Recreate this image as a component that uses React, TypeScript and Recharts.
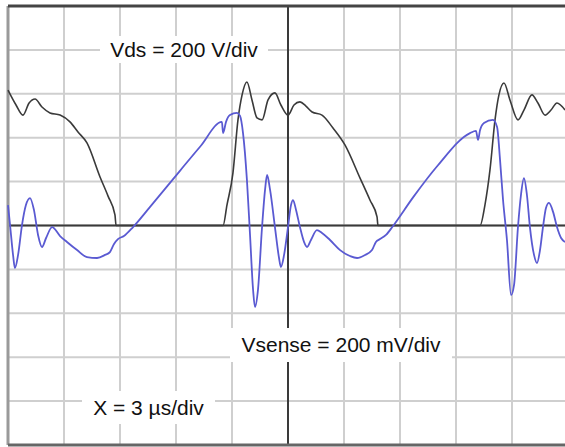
import React from 'react';
import {
  LineChart,
  CartesianGrid,
  XAxis,
  YAxis,
  Line,
  ReferenceLine
} from 'recharts';

// time axis in µs (3 µs/div), both traces in their own units at 200 units/div
const timeTicks = [0, 3, 6, 9, 12, 15, 18, 21, 24, 27, 30];
const levelTicks = [-1000, -800, -600, -400, -200, 0, 200, 400, 600, 800, 1000];

// Vds trace (V)
const vdsTime = [
  0, 0.43, 0.8, 1.13, 1.45, 1.82, 2.25, 2.79, 3.32, 3.75, 4.23, 4.93, 5.36,
  5.73, 5.79, 8.5, 11.52, 11.73, 12.05, 12.32, 12.54, 12.8, 13.07, 13.34, 13.61,
  13.93, 14.3, 14.62, 15.0, 15.32, 15.64, 15.96, 16.29, 16.82, 17.41, 18.05,
  18.86, 19.39, 19.77, 19.82, 22.5, 25.29, 25.55, 25.82, 26.09, 26.3, 26.57, 26.89,
  27.32, 27.64, 28.07, 28.39, 28.77, 29.09, 29.41, 29.84
];
const vdsVolts = [
  617, 549, 503, 558, 576, 540, 513, 503, 472, 426, 376, 221, 134,
  48, 0, 0, 0, 93, 239, 481, 595, 654, 572, 490, 481,
  572, 604, 549, 503, 549, 563, 544, 517, 503, 444, 367,
  216, 116, 39, 0, 0, 0, 93, 253, 481, 595, 649, 572,
  481, 526, 595, 558, 503, 526, 558, 526
];

// Vsense trace (mV)
const senseTime = [
  0, 0.11, 0.27, 0.37, 0.54, 0.75, 0.96, 1.18, 1.39, 1.61, 1.82, 2.04, 2.36,
  2.79, 3.16, 3.7, 4.23, 4.77, 5.2, 5.46, 5.68, 5.89, 6.21, 6.7,
  7.6, 9.2, 10.3, 11.46, 11.52, 11.68, 11.89, 12.27, 12.43, 12.59, 12.8, 12.96,
  13.13, 13.23, 13.39, 13.61, 13.77, 13.88, 14.04, 14.3, 14.52, 14.62, 14.79,
  15.0, 15.16, 15.27, 15.43, 15.64, 15.86, 16.02, 16.23, 16.55, 16.82, 17.25,
  17.79, 18.32, 18.7, 19.13, 19.5, 19.71, 19.93, 20.25, 20.63,
  21.7, 23.0, 24.75, 25.07, 25.18, 25.29, 25.5, 25.98, 26.2, 26.36, 26.52, 26.73,
  26.95, 27.11, 27.32, 27.48, 27.64, 27.8, 27.96, 28.18, 28.34, 28.5, 28.66,
  28.82, 28.98, 29.2, 29.41, 29.63, 29.84
];
const senseMv = [
  93, 2, -134, -194, -134, 2, 93, 125, 71, -43, -98, -57, -7,
  -48, -75, -112, -144, -148, -134, -121, -84, -62, -48, -7,
  84, 248, 360, 472, 421, 472, 503, 513, 499, 421, 207, -34,
  -294, -371, -294, -7, 162, 230, 162, -7, -148, -189, -134,
  -7, 93, 116, 71, -7, -75, -98, -66, -21, -34, -66,
  -112, -139, -148, -134, -112, -75, -62, -43, -2,
  128, 271, 421, 431, 390, 435, 467, 481, 449, 298, 116, -66,
  -317, -271, -7, 139, 216, 139, -7, -134, -171, -112, -7,
  80, 103, 62, -7, -57, -75
];

const vdsData = vdsTime.map((t, i) => ({ t, v: vdsVolts[i] }));
const senseData = senseTime.map((t, i) => ({ t, v: senseMv[i] }));

const labelStyle: React.CSSProperties = {
  position: 'absolute',
  background: '#fff',
  fontFamily: '"Liberation Sans", Arial, sans-serif',
  fontSize: 21,
  color: '#111',
  textAlign: 'center',
  whiteSpace: 'nowrap'
};

const App: React.FC = () => {
  return (
    <div
      style={{
        position: 'absolute',
        left: 0,
        top: 0,
        width: 565,
        height: 447,
        overflow: 'hidden',
        background: '#fff'
      }}
    >
      <LineChart
        width={568}
        height={447}
        margin={{ top: 6, right: 0, bottom: 2, left: 8 }}
      >
        <XAxis
          type="number"
          dataKey="t"
          domain={[0, 30]}
          ticks={timeTicks}
          allowDuplicatedCategory={false}
          hide
        />
        <YAxis type="number" domain={[-1000, 1000]} ticks={levelTicks} hide />
        <CartesianGrid stroke="#cfcfcf" strokeWidth={2} />
        <ReferenceLine x={15} stroke="#3a3a3a" strokeWidth={2} />
        <ReferenceLine y={0} stroke="#3a3a3a" strokeWidth={2} />
        <ReferenceLine x={0} stroke="#9a9a9a" strokeWidth={3} />
        <ReferenceLine y={1000} stroke="#444" strokeWidth={3} />
        <ReferenceLine y={-1000} stroke="#666" strokeWidth={3} />
        <Line
          data={vdsData}
          dataKey="v"
          type="monotone"
          stroke="#3a3a3a"
          strokeWidth={1.6}
          dot={false}
          isAnimationActive={false}
        />
        <Line
          data={senseData}
          dataKey="v"
          type="monotone"
          stroke="#5a5ad2"
          strokeWidth={1.8}
          dot={false}
          isAnimationActive={false}
        />
      </LineChart>
      <div style={{ ...labelStyle, left: 100, top: 36, width: 168, height: 27, lineHeight: '27px' }}>
        Vds = 200 V/div
      </div>
      <div style={{ ...labelStyle, left: 230, top: 328, width: 222, height: 34, lineHeight: '34px' }}>
        Vsense = 200 mV/div
      </div>
      <div style={{ ...labelStyle, left: 82, top: 391, width: 133, height: 33, lineHeight: '33px' }}>
        X = 3 µs/div
      </div>
    </div>
  );
};

export default App;
